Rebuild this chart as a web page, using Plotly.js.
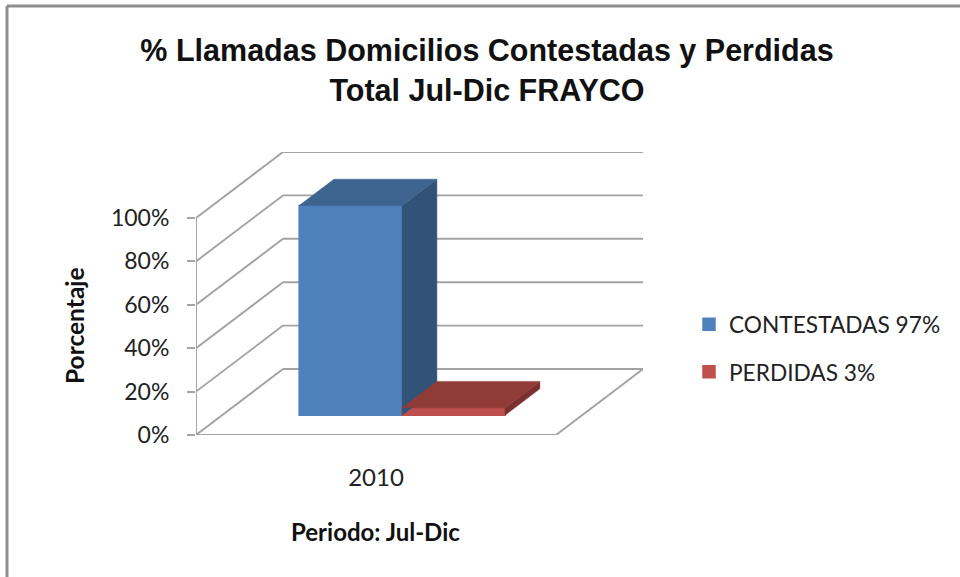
<!DOCTYPE html>
<html>
<head>
<meta charset="utf-8">
<script src="https://cdn.plot.ly/plotly-3.0.1.min.js"></script>
<style>
  html, body { margin: 0; padding: 0; background: #ffffff; }
  #chart { width: 960px; height: 577px; }
</style>
</head>
<body>
<div id="chart"></div>
<script>
  "use strict";

  const categories = ["2010"];
  const seriesNames = ["CONTESTADAS 97%", "PERDIDAS 3%"];
  const seriesValues = [96.6, 3.4];
  const yTicks = [0, 20, 40, 60, 80, 100];
  const yTickLabels = ["0%", "20%", "40%", "60%", "80%", "100%"];
  const frontColors = ["#4f81bd", "#c0504d"];
  const topColors = ["#3d638f", "#913b39"];
  const sideColors = ["#325378", "#7a302e"];

  // oblique projection: floor depth 0..1 moves a point right and up
  const DEPTH_X = 87 / 360;
  const DEPTH_Y = 66 / 2.17;
  const BAR_WIDTH = 0.286;
  const BAR_START = 0.214;
  const D0 = 0.3;
  const D1 = 0.7;
  const GRID = "#a3a3a3";

  function px(x, d) { return x + d * DEPTH_X; }
  function py(v, d) { return v + d * DEPTH_Y; }

  function gridLine(x0, y0, x1, y1) {
    return { type: "line", xref: "x", yref: "y", x0, y0, x1, y1, layer: "below", line: { color: GRID, width: 1.9 } };
  }

  function face(xs, ys, color) {
    return {
      type: "scatter", mode: "lines", x: xs, y: ys, fill: "toself", fillcolor: color,
      line: { color, width: 0.5 }, showlegend: false, hoverinfo: "skip", cliponaxis: false
    };
  }

  const shapes = [];
  yTicks.forEach((t) => {
    shapes.push(gridLine(px(0, 0), py(t, 0), px(0, 1), py(t, 1)));
    shapes.push(gridLine(px(0, 1), py(t, 1), px(1, 1), py(t, 1)));
  });
  shapes.push(gridLine(0, 0, 0, 100));
  shapes.push(gridLine(0, 0, 1, 0));
  shapes.push(gridLine(1, 0, px(1, 1), py(0, 1)));

  // outer chart frame, only top and left are inside the picture
  const frameX = (7 - 196) / 447;
  const frameY = (577 - 6 - 142) / 283;
  const frameLine = { color: "#8e8e8e", width: 3 };
  shapes.push({ type: "line", xref: "paper", yref: "paper", x0: frameX, x1: frameX, y0: -142 / 283, y1: frameY, line: frameLine });
  shapes.push({ type: "line", xref: "paper", yref: "paper", x0: frameX, x1: (960 - 196) / 447, y0: frameY, y1: frameY, line: frameLine });

  const traces = [];
  seriesValues.forEach((v, i) => {
    const x0 = BAR_START + i * BAR_WIDTH;
    const x1 = x0 + BAR_WIDTH;
    traces.push({
      type: "bar",
      name: seriesNames[i],
      legendgroup: "s" + i,
      x: [px(x0 + BAR_WIDTH / 2, D0)],
      y: [v],
      base: [py(0, D0)],
      width: [BAR_WIDTH],
      marker: { color: frontColors[i], line: { color: frontColors[i], width: 1.5 } },
      hovertemplate: categories[0] + ": " + v + "%<extra>" + seriesNames[i] + "</extra>"
    });
    traces.push(face(
      [px(x1, D0), px(x1, D1), px(x1, D1), px(x1, D0), px(x1, D0)],
      [py(0, D0), py(0, D1), py(v, D1), py(v, D0), py(0, D0)],
      sideColors[i]
    ));
    traces.push(face(
      [px(x0, D0), px(x1, D0), px(x1, D1), px(x0, D1), px(x0, D0)],
      [py(v, D0), py(v, D0), py(v, D1), py(v, D1), py(v, D0)],
      topColors[i]
    ));
  });

  const LABEL_FONT = "Lato, sans-serif";

  const layout = {
    width: 960,
    height: 577,
    paper_bgcolor: "#ffffff",
    plot_bgcolor: "#ffffff",
    margin: { l: 196, r: 317, t: 152, b: 142, pad: 0 },
    barmode: "overlay",
    title: {
      text: "% Llamadas Domicilios Contestadas y Perdidas<br>Total Jul-Dic FRAYCO",
      x: 487 / 960,
      xanchor: "center",
      y: 1 - 61 / 577,
      yanchor: "top",
      font: { family: "Liberation Sans, Arial, sans-serif", size: 30.5, color: "#111111", weight: "bold" }
    },
    xaxis: {
      range: [0, 447 / 360],
      tickmode: "array",
      tickvals: [0.5],
      ticktext: categories,
      ticks: "outside",
      ticklen: 21,
      tickcolor: "rgba(0,0,0,0)",
      tickfont: { family: LABEL_FONT, size: 24, color: "#222222" },
      showgrid: false,
      zeroline: false,
      showline: false
    },
    yaxis: {
      range: [0, 283 / 2.17],
      tickmode: "array",
      tickvals: yTicks,
      ticktext: yTickLabels,
      ticks: "outside",
      ticklen: 8,
      tickwidth: 1.9,
      tickcolor: GRID,
      ticklabelstandoff: 13,
      tickfont: { family: LABEL_FONT, size: 23, color: "#222222" },
      showgrid: false,
      zeroline: false,
      showline: false
    },
    legend: {
      x: (689 - 196) / 447,
      xanchor: "left",
      y: (435 - 303) / 283,
      yanchor: "top",
      font: { family: LABEL_FONT, size: 22.7, color: "#222222" },
      tracegroupgap: 15,
      bgcolor: "rgba(0,0,0,0)"
    },
    annotations: [
      {
        text: "<b>Porcentaje</b>", textangle: -90, showarrow: false,
        xref: "paper", yref: "paper", x: (74 - 196) / 447, y: (435 - 326) / 283,
        xanchor: "center", yanchor: "middle",
        font: { family: LABEL_FONT, size: 24.5, color: "#111111" }
      },
      {
        text: "<b>Periodo: Jul-Dic</b>", showarrow: false,
        xref: "paper", yref: "paper", x: (375.5 - 196) / 447, y: (435 - 531) / 283,
        xanchor: "center", yanchor: "middle",
        font: { family: LABEL_FONT, size: 24, color: "#111111" }
      }
    ],
    shapes
  };

  Plotly.newPlot("chart", traces, layout, { displayModeBar: false, responsive: false });
</script>
</body>
</html>
